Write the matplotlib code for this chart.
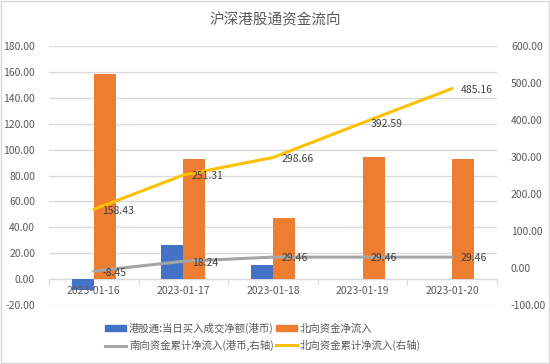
import matplotlib
matplotlib.use("Agg")
import matplotlib.pyplot as plt
from matplotlib.patches import Rectangle
from matplotlib.lines import Line2D
import numpy as np

plt.rcParams['font.family'] = ['Noto Sans CJK SC', 'DejaVu Sans']

dates = ["2023-01-16", "2023-01-17", "2023-01-18", "2023-01-19", "2023-01-20"]
hk_daily = [-8.45, 26.69, 11.22, 0.0, 0.0]
north_daily = [158.43, 92.88, 47.35, 93.93, 92.57]
south_cum = [-8.45, 18.24, 29.46, 29.46, 29.46]
north_cum = [158.43, 251.31, 298.66, 392.59, 485.16]
left_ticks = [-20, 0, 20, 40, 60, 80, 100, 120, 140, 160, 180]
right_ticks = [-100, 0, 100, 200, 300, 400, 500, 600]

title = "沪深港股通资金流向"
labels = ["港股通:当日买入成交净额(港币)", "北向资金净流入",
          "南向资金累计净流入(港币,右轴)", "北向资金累计净流入(右轴)"]

BLUE = "#4472C4"
ORANGE = "#ED7D31"
GRAY = "#A5A5A5"
YELLOW = "#FFC000"
TXT = "#595959"
GRID = "#D9D9D9"

fig = plt.figure(figsize=(5.5, 3.64), dpi=100)
fig.patch.set_facecolor("white")
fig.add_artist(Rectangle((0.001, 0.002), 0.997, 0.995, transform=fig.transFigure,
                         fill=False, edgecolor="#D9D9D9", linewidth=1.0))

ax = fig.add_axes([49/550, 1-305/364, 448/550, 259/364])
x = np.arange(len(dates))
w = 0.245
ax.bar(x - w/2, hk_daily, width=w, color=BLUE, zorder=3)
ax.bar(x + w/2, north_daily, width=w, color=ORANGE, zorder=3)

ax.set_xlim(-0.5, len(dates) - 0.5)
ax.set_ylim(-20, 180)
ax.set_yticks(left_ticks)
ax.set_yticklabels([f"{v:.2f}" for v in left_ticks])
ax.grid(axis="y", color=GRID, linewidth=1.0, zorder=0)
ax.set_axisbelow(True)
for s in ["top", "right", "left"]:
    ax.spines[s].set_visible(False)
ax.spines["bottom"].set_position(("data", 0))
ax.spines["bottom"].set_color(GRID)
ax.spines["bottom"].set_zorder(2)
ax.set_xticks(np.arange(-0.5, len(dates), 1.0))
ax.set_xticklabels([])
ax.tick_params(axis="x", which="major", length=4, color=GRID, direction="out")
ax.tick_params(axis="y", length=0, labelsize=7.5, labelcolor=TXT, pad=10)
for xi, d in zip(x, dates):
    ax.annotate(d, (xi, 0), xytext=(0, -5), textcoords="offset points",
                ha="center", va="top", fontsize=7.5, color=TXT, zorder=6,
                annotation_clip=False)

ax2 = ax.twinx()
ax2.set_ylim(-100, 600)
ax2.set_yticks(right_ticks)
ax2.set_yticklabels([f"{v:.2f}" for v in right_ticks])
ax2.tick_params(axis="y", length=0, labelsize=7.5, labelcolor=TXT, pad=10)
for s in ["top", "right", "left", "bottom"]:
    ax2.spines[s].set_visible(False)
ax2.plot(x, south_cum, color=GRAY, linewidth=2.2, solid_capstyle="round", zorder=4)
ax2.plot(x, north_cum, color=YELLOW, linewidth=2.2, solid_capstyle="round", zorder=4)
for xi, v in zip(x, south_cum):
    ax2.annotate(f"{v:.2f}", (xi, v), xytext=(6, -1), textcoords="offset points",
                 ha="left", va="center", fontsize=7.5, color="#404040", zorder=5)
for xi, v in zip(x, north_cum):
    ax2.annotate(f"{v:.2f}", (xi, v), xytext=(6, -1), textcoords="offset points",
                 ha="left", va="center", fontsize=7.5, color="#404040", zorder=5)
# re-draw the date labels above the secondary axes content
for xi, d in zip(x, dates):
    pass

fig.text(0.5, 1-20/364, title, ha="center", va="center", fontsize=10.5, color=TXT)

handles = [Rectangle((0, 0), 1, 1, color=BLUE),
           Line2D([], [], color=GRAY, linewidth=2.2),
           Rectangle((0, 0), 1, 1, color=ORANGE),
           Line2D([], [], color=YELLOW, linewidth=2.2)]
leg_labels = [labels[0], labels[2], labels[1], labels[3]]
leg = fig.legend(handles, leg_labels, ncol=2, loc="center", bbox_to_anchor=(263/550, 1-337/364),
                 frameon=False, fontsize=7.5, handlelength=2.0, handleheight=0.5,
                 handletextpad=0.3, columnspacing=0.2, labelspacing=0.55, labelcolor=TXT)

fig.savefig("out.png", dpi=100)
